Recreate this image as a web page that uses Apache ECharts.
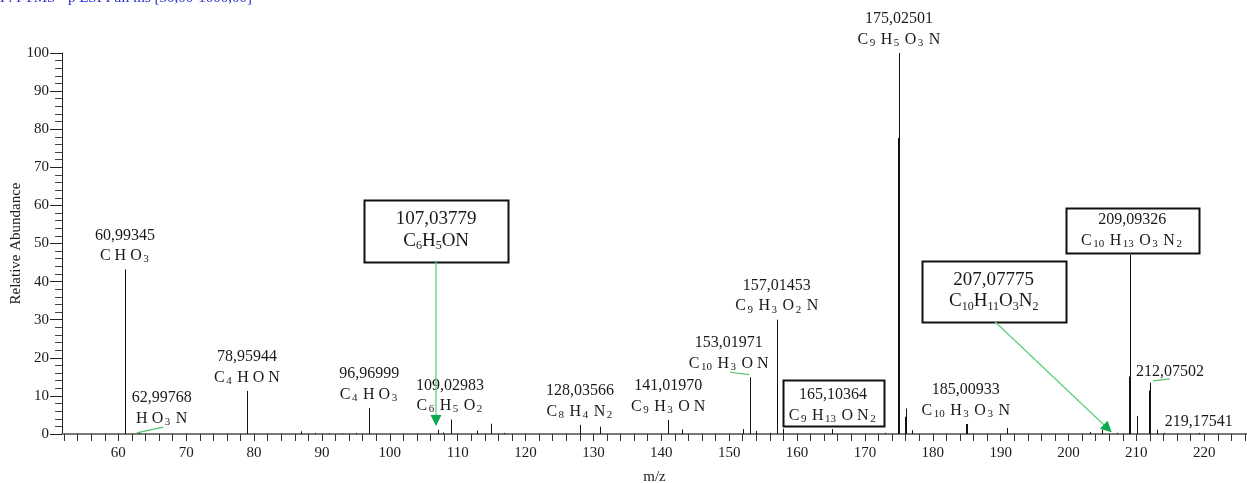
<!DOCTYPE html>
<html><head><meta charset="utf-8">
<script src="https://cdn.jsdelivr.net/npm/echarts@6/dist/echarts.min.js"></script>
<style>html,body{margin:0;padding:0;background:#fff}#c{width:1247px;height:483px}</style>
</head><body><div id="c"></div>
<script>
// ---- data ----
const peakMz = [60.99345, 62.99768, 78.95944, 86.9, 89.0, 91.0, 93.0, 95.0, 96.96999, 107.03779, 107.8, 109.02983, 112.9, 114.9, 116.8, 128.03566, 131.0, 141.0197, 143.0, 152.0, 153.01971, 154.0, 156.0, 157.01453, 158.0, 165.10364, 173.0, 175.02501, 176.0, 177.0, 185.00933, 191.0, 203.2, 205.0, 207.07775, 209.09326, 210.05, 212.07502, 213.0, 214.1, 219.17541];
const peakIntensity = [43.2, 0.5, 11.3, 0.7, 0.3, 0.2, 0.2, 0.3, 6.8, 1.1, 0.4, 3.8, 0.9, 2.7, 0.3, 2.4, 1.9, 3.7, 1.2, 1.3, 14.9, 0.8, 0.3, 30.0, 1.4, 1.3, 0.3, 100, 6.7, 1.0, 2.6, 1.6, 0.5, 1.1, 0.3, 47.0, 4.7, 13.5, 1.1, 0.3, 0.3];
const overlayMz = [175.02501, 176.0, 185.00933, 209.09326, 212.07502];
const overlayIntensity = [77.7, 4.5, 2.6, 15.1, 11.4];

const labelMz = [60.99345, 62.99768, 78.95944, 96.96999, 109.02983, 128.03566, 141.0197, 153.01971, 157.01453, 175.02501, 185.00933];
const labelNumber = ['60,99345', '62,99768', '78,95944', '96,96999', '109,02983', '128,03566', '141,01970', '153,01971', '157,01453', '175,02501', '185,00933'];
const labelFormula = ['C H O3', 'H O3 N', 'C4 H O N', 'C4 H O3', 'C6 H5 O2', 'C8 H4 N2', 'C9 H3 O N', 'C10 H3 O N', 'C9 H3 O2 N', 'C9 H5 O3 N', 'C10 H3 O3 N'];
const singleMz = [212.07502, 219.17541];
const singleNumber = ['212,07502', '219,17541'];
const boxedMz = [165.10364, 209.09326];
const boxedNumber = ['165,10364', '209,09326'];
const boxedFormula = ['C9 H13 O N2', 'C10 H13 O3 N2'];
const calloutMz = [107.03779, 207.07775];
const calloutNumber = ['107,03779', '207,07775'];
const calloutFormula = ['C6H5ON', 'C10H11O3N2'];
const xTickLabels = [60, 70, 80, 90, 100, 110, 120, 130, 140, 150, 160, 170, 180, 190, 200, 210, 220];
const yTickLabels = [0, 10, 20, 30, 40, 50, 60, 70, 80, 90, 100];
const titleText = 'F: FTMS - p ESI Full ms [50,00-1000,00]';

// ---- layout (pixel offsets from each peak top) ----
const labelDx = [0, 23, 0, 0, -1, 0, 0, -21, 0, 0, -1];
const labelLinks = {1: [-2, 0.7, 24.6, -4.9], 7: [-19.7, -5, -0.4, -2.7]};
const singleOff = [[19.5, -10.3], [0, -11]];
const singleLinks = {0: [2.5, -1.6, 19.5, -3.6]};
const boxedLayout = [
  {x0: -49, x1: 51.6, y0: -49, y1: -3, dx: 1.3, n: -34, f: -13},
  {x0: -64.5, x1: 68.8, y0: -46.7, y1: -1.7, dx: 2, n: -35, f: -14}
];
const calloutLayout = [
  {x0: -73.6, x1: 70.7, y0: -229.8, y1: -168.1, dx: -1.4, n: -210.5, f: -188.5, a: [-1.6, -168.1, -1.6, -3.8]},
  {x0: -194.8, x1: -50.8, y0: -171.9, y1: -111.2, dx: -122.8, n: -153, f: -131.5, a: [-121.5, -111.2, -4.8, -0.6]}
];

const FF = "'Liberation Serif', 'Times New Roman', serif";
const TXT = '#1a1a1a';
function subRich(f) { return f.replace(/(\d+)/g, '{s|$1}'); }
function intensityOf(m) { return peakIntensity[peakMz.indexOf(m)]; }
function formulaText(x, y, f, size, subSize, lh, subLh, subPad) {
  return {type: 'text', x: x, y: y, style: {text: subRich(f), align: 'center', verticalAlign: 'middle',
    fontSize: size, fontFamily: FF, fill: TXT, lineHeight: lh,
    rich: {s: {fontSize: subSize, fontFamily: FF, fill: TXT, lineHeight: subLh, verticalAlign: 'bottom', padding: [0, subPad, 0, subPad]}}}};
}
function plainText(x, y, t, size) {
  return {type: 'text', x: x, y: y, style: {text: t, align: 'center', verticalAlign: 'middle', fontSize: size, fontFamily: FF, fill: TXT}};
}
function greenLink(p, l) {
  return {type: 'line', shape: {x1: p[0] + l[0], y1: p[1] + l[1], x2: p[0] + l[2], y2: p[1] + l[3]}, style: {stroke: '#55c46a', lineWidth: 1.2}};
}
function arrow(p, a) {
  const x1 = p[0] + a[0], y1 = p[1] + a[1], x2 = p[0] + a[2], y2 = p[1] + a[3];
  const dx = x2 - x1, dy = y2 - y1, L = Math.sqrt(dx * dx + dy * dy), ux = dx / L, uy = dy / L;
  const hl = 11, hw = 5.5;
  const bx = x2 - ux * hl, by = y2 - uy * hl;
  return [
    {type: 'line', shape: {x1: x1, y1: y1, x2: bx, y2: by}, style: {stroke: '#5fd07e', lineWidth: 1.3}},
    {type: 'polygon', shape: {points: [[x2, y2], [bx - uy * hw, by + ux * hw], [bx + uy * hw, by - ux * hw]]}, style: {fill: '#0aa84f'}}
  ];
}

const xTicks = [];
for (let v = 52; v <= 226; v += 2) xTicks.push(v);

function stickSeries(mz, vals, width) {
  return {
    type: 'custom', coordinateSystem: 'cartesian2d', clip: false, silent: true, z: 3,
    data: mz.map((m, i) => [m, vals[i]]),
    renderItem: function (params, api) {
      const p0 = api.coord([api.value(0), 0]);
      const p1 = api.coord([api.value(0), api.value(1)]);
      const x = width === 1 ? Math.round(p0[0]) + 0.5 : Math.round(p0[0]);
      return {type: 'line', shape: {x1: x, y1: p0[1], x2: x, y2: p1[1]}, style: {stroke: '#111', lineWidth: width}};
    }
  };
}

const chart = echarts.init(document.getElementById('c'), null, {renderer: 'canvas'});
chart.setOption({
  animation: false,
  backgroundColor: '#fff',
  grid: {left: 62, right: 0, top: 53, bottom: 49, containLabel: false, outerBoundsMode: 'none'},
  graphic: [{type: 'text', x: 0, y: -9, style: {text: titleText, fontSize: 15, fontFamily: FF, fill: '#2b2bd0'}}],
  xAxis: {
    type: 'value', min: 51.7, max: 226.3,
    name: 'm/z', nameLocation: 'middle', nameGap: 36,
    nameTextStyle: {fontSize: 15, fontFamily: FF, color: TXT},
    axisLine: {show: true, lineStyle: {color: '#7a7a7a', width: 2}},
    axisTick: {show: true, customValues: xTicks, length: 7, inside: false, lineStyle: {color: '#333', width: 1}},
    axisLabel: {customValues: xTickLabels, margin: 12, fontSize: 15, fontFamily: FF, color: TXT},
    splitLine: {show: false}
  },
  yAxis: {
    type: 'value', min: 0, max: 100, interval: 10,
    name: 'Relative Abundance', nameLocation: 'middle', nameGap: 38, nameMoveOverlap: false,
    nameTextStyle: {fontSize: 15, fontFamily: FF, color: TXT},
    axisLine: {show: true, lineStyle: {color: '#222', width: 1}},
    axisTick: {show: true, length: 12, lineStyle: {color: '#222'}},
    minorTick: {show: true, splitNumber: 5, length: 7, lineStyle: {color: '#444'}},
    axisLabel: {customValues: yTickLabels, margin: 13, fontSize: 15, fontFamily: FF, color: TXT},
    splitLine: {show: false}, minorSplitLine: {show: false}
  },
  series: [
    stickSeries(peakMz, peakIntensity, 1),
    stickSeries(overlayMz, overlayIntensity, 2),
    {
      type: 'custom', coordinateSystem: 'cartesian2d', clip: false, silent: true, z: 5,
      data: labelMz.map(m => [m, intensityOf(m)]),
      renderItem: function (params, api) {
        const i = params.dataIndex;
        const p = api.coord([api.value(0), api.value(1)]);
        const cx = p[0] + labelDx[i];
        const children = [
          plainText(cx, p[1] - 34, labelNumber[i], 16),
          formulaText(cx, p[1] - 13.5, labelFormula[i], 16, 11, 18, 12, 1.5)
        ];
        if (labelLinks[i]) children.push(greenLink(p, labelLinks[i]));
        return {type: 'group', children: children};
      }
    },
    {
      type: 'custom', coordinateSystem: 'cartesian2d', clip: false, silent: true, z: 5,
      data: singleMz.map(m => [m, intensityOf(m)]),
      renderItem: function (params, api) {
        const i = params.dataIndex;
        const p = api.coord([api.value(0), api.value(1)]);
        const children = [plainText(p[0] + singleOff[i][0], p[1] + singleOff[i][1], singleNumber[i], 16)];
        if (singleLinks[i]) children.push(greenLink(p, singleLinks[i]));
        return {type: 'group', children: children};
      }
    },
    {
      type: 'custom', coordinateSystem: 'cartesian2d', clip: false, silent: true, z: 5,
      data: boxedMz.map(m => [m, intensityOf(m)]),
      renderItem: function (params, api) {
        const i = params.dataIndex, L = boxedLayout[i];
        const p = api.coord([api.value(0), api.value(1)]);
        return {type: 'group', children: [
          {type: 'rect', shape: {x: Math.round(p[0] + L.x0) + 0.5, y: Math.round(p[1] + L.y0) + 0.5, width: Math.round(L.x1 - L.x0), height: Math.round(L.y1 - L.y0)}, style: {fill: '#fff', stroke: '#111', lineWidth: 2}},
          plainText(p[0] + L.dx, p[1] + L.n, boxedNumber[i], 16),
          formulaText(p[0] + L.dx, p[1] + L.f, boxedFormula[i], 16, 11, 18, 12, 1.5)
        ]};
      }
    },
    {
      type: 'custom', coordinateSystem: 'cartesian2d', clip: false, silent: true, z: 6,
      data: calloutMz.map(m => [m, intensityOf(m)]),
      renderItem: function (params, api) {
        const i = params.dataIndex, L = calloutLayout[i];
        const p = api.coord([api.value(0), api.value(1)]);
        return {type: 'group', children: [
          {type: 'rect', shape: {x: Math.round(p[0] + L.x0) + 0.5, y: Math.round(p[1] + L.y0) + 0.5, width: Math.round(L.x1 - L.x0), height: Math.round(L.y1 - L.y0)}, style: {fill: '#fff', stroke: '#111', lineWidth: 2}},
          plainText(p[0] + L.dx, p[1] + L.n, calloutNumber[i], 19),
          formulaText(p[0] + L.dx, p[1] + L.f, calloutFormula[i], 19, 12, 22, 13, 0)
        ].concat(arrow(p, L.a))};
      }
    }
  ]
});
</script></body></html>
